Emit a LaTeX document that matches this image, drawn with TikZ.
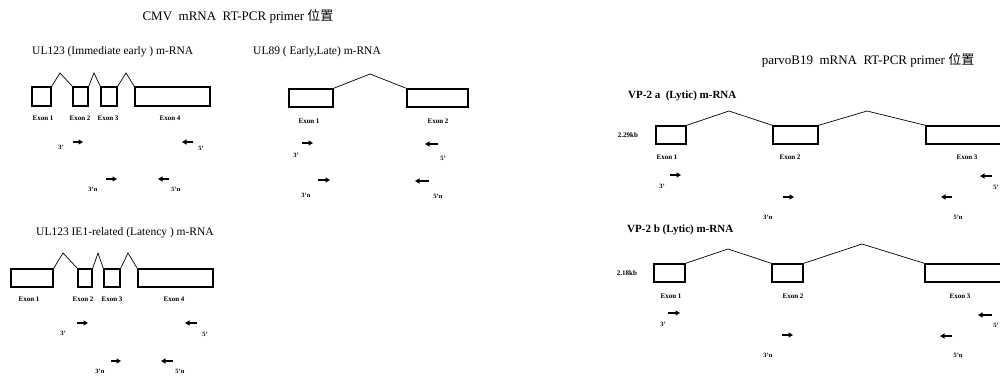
\documentclass[tikz,border=0pt]{standalone}
\usepackage{fontspec}
\setmainfont{Liberation Serif}
\newfontfamily\cjk{Noto Sans CJK TC}
\usetikzlibrary{arrows.meta}
\tikzset{
  exon/.style={draw, line width=1.4pt, inner sep=0pt, minimum height=18},
  intron/.style={line width=0.7pt},
  prm/.style={-{Triangle[length=4.5pt,width=5pt]}, line width=1.5pt},
  exlab/.style={font=\fontsize{7}{8}\selectfont\bfseries, inner sep=0pt},
  plab/.style={font=\fontsize{6.5}{7}\selectfont\bfseries, inner sep=0pt},
  hdr/.style={font=\fontsize{11.5}{13}\selectfont, inner sep=0pt, anchor=west},
  bhdr/.style={font=\fontsize{11}{13}\selectfont\bfseries, inner sep=0pt, anchor=west},
  ttl/.style={font=\fontsize{13}{15}\selectfont, inner sep=0pt},
}
% short primer arrow: name, x from, x to, y
\newcommand{\primer}[4]{%
  \coordinate (#1s) at (#2,#4); \coordinate (#1e) at (#3,#4);
  \draw[prm] (#1s) -- (#1e);}

\begin{document}
\begin{tikzpicture}[x=1pt,y=-1pt]
  \useasboundingbox (0,0) rectangle (1000,378);
  \clip (0,0) rectangle (1000,378);

  \node[ttl] (cmvT) at (238,16) {CMV\ \ mRNA\ \ RT-PCR primer {\cjk 位置}};
  \node[ttl] (parvoT) at (868,60) {parvoB19\ \ mRNA\ \ RT-PCR primer {\cjk 位置}};

  % UL123 immediate early
  \node[hdr] (aHd) at (32,52) {UL123 (Immediate early ) m-RNA};
  \node[exon, minimum width=19, minimum height=19] (a1) at (41.5,96.5) {};
  \node[exon, minimum width=15, minimum height=19] (a2) at (80.5,96.5) {};
  \node[exon, minimum width=16, minimum height=19] (a3) at (109,96.5) {};
  \node[exon, minimum width=75, minimum height=19] (a4) at (172.5,96.5) {};
  \coordinate (a12) at (60,73);
  \coordinate (a23) at (94,73);
  \coordinate (a34) at (126,73);
  \draw[intron] (a1.north east) -- (a12) -- (a2.north west);
  \draw[intron] (a2.north east) -- (a23) -- (a3.north west);
  \draw[intron] (a3.north east) -- (a34) -- (a4.north west);
  \node[exlab] (a1l) at (43,118) {Exon 1};
  \node[exlab] (a2l) at (80,118) {Exon 2};
  \node[exlab] (a3l) at (108,118) {Exon 3};
  \node[exlab] (a4l) at (170,118) {Exon 4};
  \primer{aF}{73}{83}{142}
  \primer{aR}{193}{182}{142}
  \primer{aFn}{106}{117}{179}
  \primer{aRn}{169}{158}{179}
  \node[plab] (aFl) at (61,147) {3'};
  \node[plab] (aRl) at (201,148) {5'};
  \node[plab] (aFnl) at (93,189) {3'n};
  \node[plab] (aRnl) at (176,189) {5'n};

  % UL89 early/late
  \node[hdr] (bHd) at (253,52) {UL89 ( Early,Late) m-RNA};
  \node[exon, minimum width=44] (b1) at (311,98) {};
  \node[exon, minimum width=61] (b2) at (437.5,98) {};
  \coordinate (b12) at (370,74);
  \draw[intron] (b1.north east) -- (b12) -- (b2.north west);
  \node[exlab] (b1l) at (309,121) {Exon 1};
  \node[exlab] (b2l) at (438,121) {Exon 2};
  \primer{bF}{302}{313}{143}
  \primer{bR}{438}{425}{144}
  \primer{bFn}{318}{330}{180}
  \primer{bRn}{429}{415}{181}
  \node[plab] (bFl) at (296,155) {3'};
  \node[plab] (bRl) at (443,158) {5'};
  \node[plab] (bFnl) at (306,195) {3'n};
  \node[plab] (bRnl) at (438,196) {5'n};

  % UL123 IE1-related latency
  \node[hdr] (cHd) at (36,233) {UL123 IE1-related (Latency ) m-RNA};
  \node[exon, minimum width=42] (c1) at (32,278) {};
  \node[exon, minimum width=14] (c2) at (85,278) {};
  \node[exon, minimum width=16] (c3) at (112,278) {};
  \node[exon, minimum width=75] (c4) at (175.5,278) {};
  \coordinate (c12) at (63,253);
  \coordinate (c23) at (98,253);
  \coordinate (c34) at (128,253);
  \draw[intron] (c1.north east) -- (c12) -- (c2.north west);
  \draw[intron] (c2.north east) -- (c23) -- (c3.north west);
  \draw[intron] (c3.north east) -- (c34) -- (c4.north west);
  \node[exlab] (c1l) at (29,299) {Exon 1};
  \node[exlab] (c2l) at (83,299) {Exon 2};
  \node[exlab] (c3l) at (112,299) {Exon 3};
  \node[exlab] (c4l) at (174,299) {Exon 4};
  \primer{cF}{77}{88}{323}
  \primer{cR}{197}{185}{323}
  \primer{cFn}{111}{121}{361}
  \primer{cRn}{173}{161}{361}
  \node[plab] (cFl) at (63,333) {3'};
  \node[plab] (cRl) at (205,334) {5'};
  \node[plab] (cFnl) at (100,371) {3'n};
  \node[plab] (cRnl) at (180,371) {5'n};

  % VP-2 a
  \node[bhdr] (dHd) at (628,96) {VP-2 a\ \ (Lytic) m-RNA};
  \node[exlab] (dKb) at (628,135) {2.29kb};
  \node[exon, minimum width=30] (d1) at (671,135) {};
  \node[exon, minimum width=45] (d2) at (795.5,135) {};
  \node[exon, minimum width=84] (d3) at (968,135) {};
  \coordinate (d12) at (729,111);
  \coordinate (d23) at (867,111);
  \draw[intron] (d1.north east) -- (d12) -- (d2.north west);
  \draw[intron] (d2.north east) -- (d23) -- (d3.north west);
  \node[exlab] (d1l) at (667,157) {Exon 1};
  \node[exlab] (d2l) at (790,157) {Exon 2};
  \node[exlab] (d3l) at (967,157) {Exon 3};
  \primer{dF}{670}{681}{175}
  \primer{dR}{992}{980}{176}
  \primer{dFn}{783}{794}{197}
  \primer{dRn}{952}{941}{197}
  \node[plab] (dFl) at (662,186) {3'};
  \node[plab] (dRl) at (996,187) {5'};
  \node[plab] (dFnl) at (768,217) {3'n};
  \node[plab] (dRnl) at (958,217) {5'n};

  % VP-2 b
  \node[bhdr] (eHd) at (627,230) {VP-2 b (Lytic) m-RNA};
  \node[exlab] (eKb) at (627,273) {2.18kb};
  \node[exon, minimum width=31] (e1) at (669.5,273) {};
  \node[exon, minimum width=31] (e2) at (787.5,273) {};
  \node[exon, minimum width=85] (e3) at (967.5,273) {};
  \coordinate (e12) at (728,249);
  \coordinate (e23) at (862,244);
  \draw[intron] (e1.north east) -- (e12) -- (e2.north west);
  \draw[intron] (e2.north east) -- (e23) -- (e3.north west);
  \node[exlab] (e1l) at (671,296) {Exon 1};
  \node[exlab] (e2l) at (793,296) {Exon 2};
  \node[exlab] (e3l) at (960,296) {Exon 3};
  \primer{eF}{668}{680}{313}
  \primer{eR}{992}{978}{315}
  \primer{eFn}{782}{793}{335}
  \primer{eRn}{952}{940}{336}
  \node[plab] (eFl) at (663,324) {3'};
  \node[plab] (eRl) at (996,325) {5'};
  \node[plab] (eFnl) at (768,355) {3'n};
  \node[plab] (eRnl) at (958,355) {5'n};
\end{tikzpicture}
\end{document}
